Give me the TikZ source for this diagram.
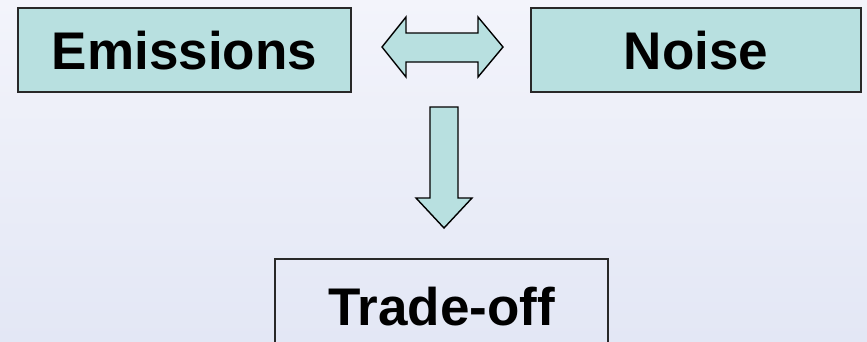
\documentclass[tikz,border=0pt]{standalone}
\usepackage{fontspec}
\setmainfont{Liberation Sans}
\definecolor{boxfill}{RGB}{184,224,224}
\definecolor{bgtop}{RGB}{243,244,251}
\definecolor{bgbot}{RGB}{227,231,245}
\definecolor{edge}{RGB}{40,40,40}
\begin{document}
\begin{tikzpicture}[x=1pt,y=-1pt,
  termbox/.style={draw=edge,line width=1.4pt,minimum width=333pt,minimum height=84pt,
     inner sep=0pt,font=\fontsize{53}{60}\selectfont\bfseries,text height=38pt,text depth=0pt},
  blockarrow/.style={draw=black,line width=1.4pt,fill=boxfill,line join=miter}]
\useasboundingbox (0,0) rectangle (867,341);
\shade[top color=bgtop,bottom color=bgbot] (0,0) rectangle (867,341);
\begin{scope}
\clip (0,0) rectangle (867,341);
\node[termbox,fill=boxfill] (emis) at (184.5,50) {Emissions};
\node[termbox,fill=boxfill,minimum width=330pt] (noise) at (696,50) {Noise};
\node[termbox,minimum height=95pt] (trade) at (441.5,306.5) {Trade-off};
\end{scope}
% double arrow between Emissions and Noise
\draw[blockarrow] (382,47) -- (406,17) -- (406,33) -- (478,33) -- (478,17) -- (503,47)
  -- (478,77) -- (478,62) -- (406,62) -- (406,77) -- cycle;
% down arrow towards Trade-off
\draw[blockarrow] (430,107) -- (458,107) -- (458,198) -- (472,198) -- (444,228)
  -- (416,198) -- (430,198) -- cycle;
\end{tikzpicture}
\end{document}
